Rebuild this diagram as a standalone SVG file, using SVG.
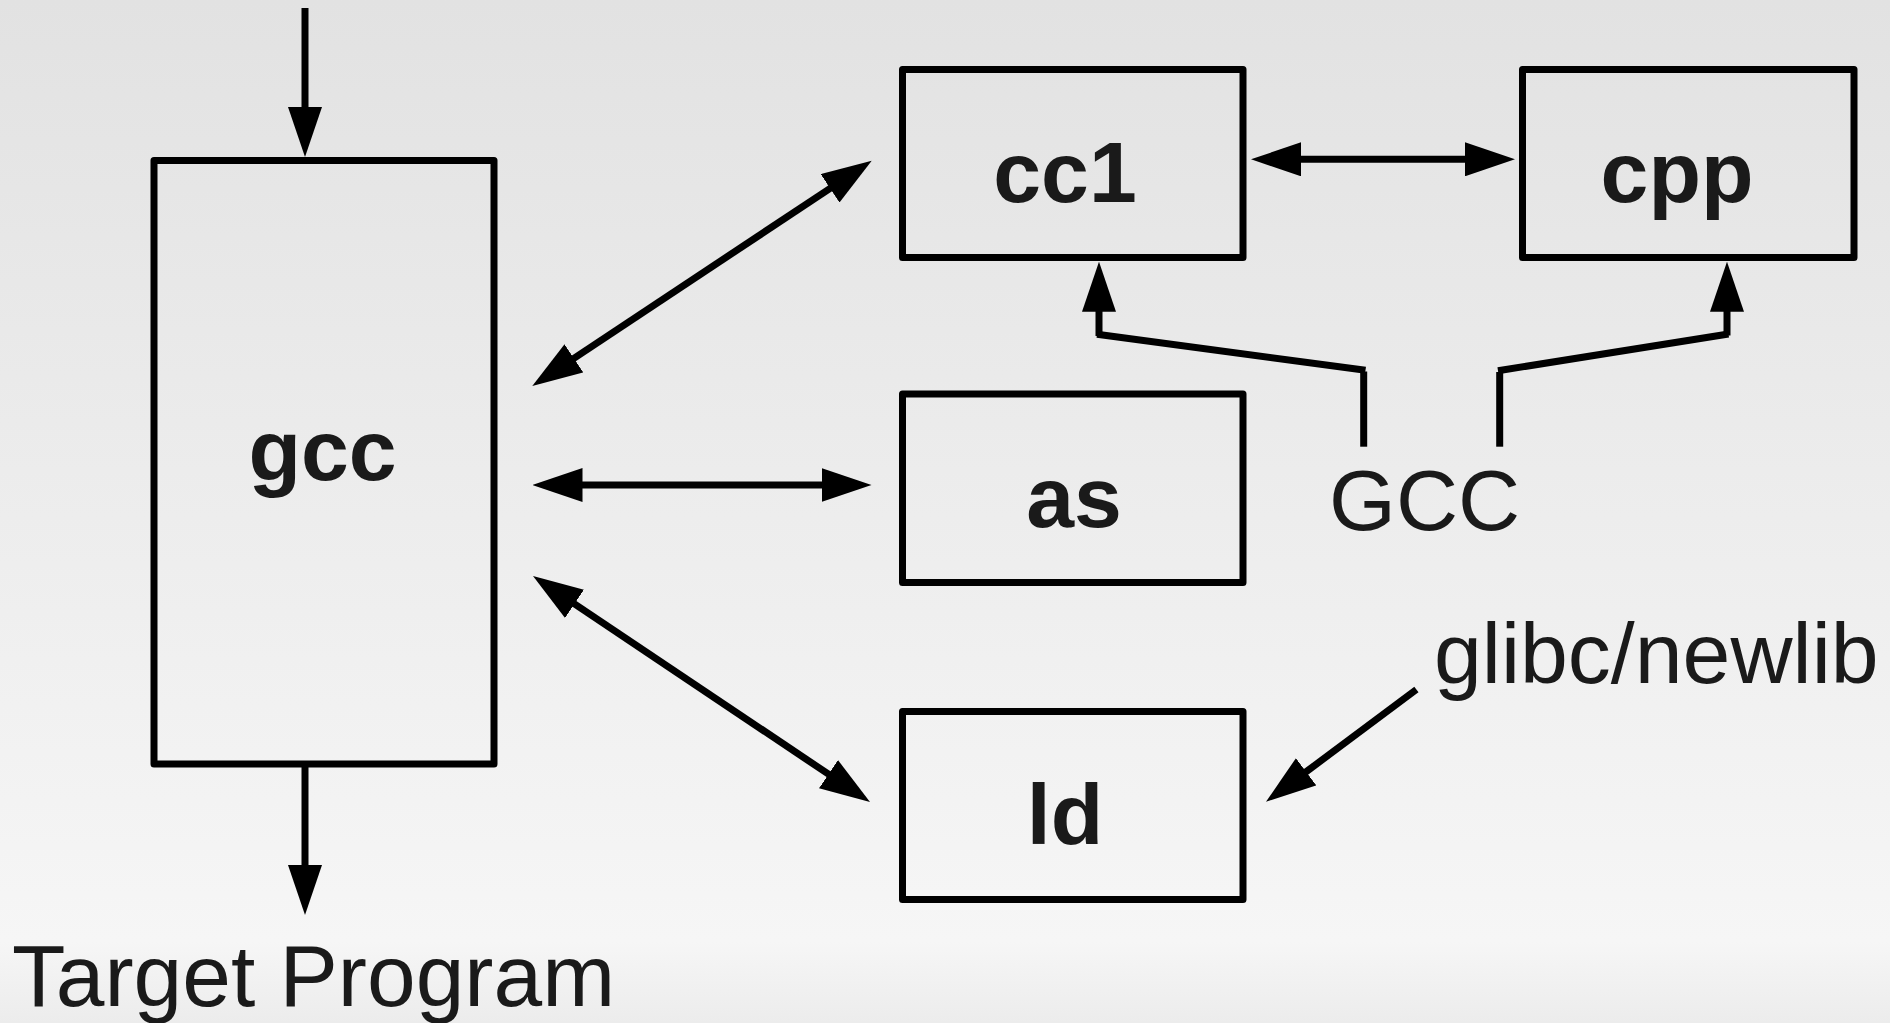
<svg xmlns="http://www.w3.org/2000/svg" width="1890" height="1023" viewBox="0 0 1890 1023">
<defs>
<linearGradient id="bg" x1="0" y1="0" x2="0" y2="1">
<stop offset="0" stop-color="#e2e2e2"/>
<stop offset="0.92" stop-color="#f6f6f6"/>
<stop offset="0.96" stop-color="#f1f1f1"/>
<stop offset="1" stop-color="#ececec"/>
</linearGradient>
<marker id="ah" viewBox="0 0 50 34" markerWidth="50" markerHeight="34" refX="1" refY="17" markerUnits="userSpaceOnUse" orient="auto-start-reverse">
<path d="M0,0 L50,17 L0,34 Z" fill="#000"/>
</marker>
<style>
.box{fill:none;stroke:#000;stroke-width:7;stroke-linejoin:round}
.ln{fill:none;stroke:#000;stroke-width:7;stroke-linecap:butt}
.one{marker-end:url(#ah)}
.two{marker-start:url(#ah);marker-end:url(#ah)}
.lbl{font-family:"Liberation Sans",Arial,Helvetica,sans-serif;font-weight:bold;font-size:86px;fill:#1a1a1a;text-anchor:middle}
.txt{font-family:"Liberation Sans",Arial,Helvetica,sans-serif;font-size:86px;fill:#1a1a1a}
</style>
</defs>
<rect x="0" y="0" width="1890" height="1023" fill="url(#bg)"/>

<g id="gcc">
<rect class="box" x="154" y="160.5" width="340" height="603.5"/>
<text class="lbl" x="322.5" y="480">gcc</text>
</g>
<g id="cc1">
<rect class="box" x="902.5" y="69.5" width="340.5" height="188"/>
<text class="lbl" x="1065" y="202">cc1</text>
</g>
<g id="cpp">
<rect class="box" x="1522.5" y="69.5" width="331.5" height="188"/>
<text class="lbl" x="1677" y="202">cpp</text>
</g>
<g id="as">
<rect class="box" x="902.5" y="394" width="340.5" height="188.5"/>
<text class="lbl" x="1074" y="527">as</text>
</g>
<g id="ld">
<rect class="box" x="902.5" y="711.5" width="340.5" height="188"/>
<text class="lbl" x="1065" y="844">ld</text>
</g>
<g id="label-gcc-src">
<text class="txt" x="1329" y="530">GCC</text>
</g>
<g id="label-glibc">
<text class="txt" x="1434" y="683">glibc/newlib</text>
</g>
<g id="label-target">
<text class="txt" x="12" y="1006" style="font-size:87.5px">Target Program</text>
</g>

<g id="connectors">
<line class="ln one" x1="305" y1="8" x2="305" y2="108"/>
<line class="ln one" x1="305" y1="767" x2="305" y2="866"/>
<line class="ln two" x1="573.1" y1="358.9" x2="830.9" y2="187.8"/>
<line class="ln two" x1="581.5" y1="485" x2="822.5" y2="485"/>
<line class="ln two" x1="573.7" y1="603.3" x2="829.3" y2="774.7"/>
<line class="ln two" x1="1300" y1="159.3" x2="1466" y2="159.3"/>
<line class="ln one" x1="1416.4" y1="689.5" x2="1305.3" y2="772.4"/>
<line class="ln" x1="1363.7" y1="446.7" x2="1363.7" y2="371.5"/>
<line class="ln" x1="1365.5" y1="370.2" x2="1097" y2="334.3"/>
<line class="ln one" x1="1099" y1="336" x2="1099" y2="310.7"/>
<line class="ln" x1="1499.7" y1="446.7" x2="1499.7" y2="372"/>
<line class="ln" x1="1498" y1="370.8" x2="1728.5" y2="334"/>
<line class="ln one" x1="1727" y1="335.5" x2="1727" y2="310.7"/>
</g>
</svg>
